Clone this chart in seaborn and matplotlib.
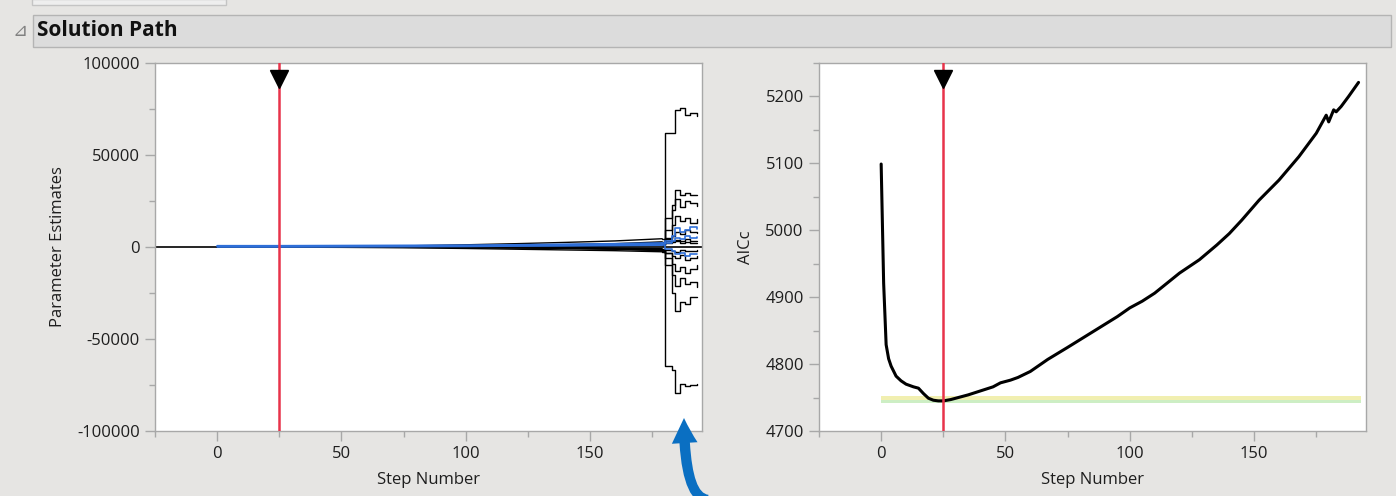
import numpy as np
import pandas as pd
import seaborn as sns
import matplotlib.pyplot as plt
from matplotlib.ticker import MultipleLocator
from matplotlib.patches import Rectangle, FancyArrowPatch
from matplotlib.path import Path

# ---- data ----
# left panel: parameter paths, values at these step knots
path_steps = [0, 25, 50, 75, 100, 120, 140, 160, 179, 180, 183, 184, 186, 188, 190, 193]
split = 8  # knots up to step 179 drift smoothly, after that the paths jump in steps

big_up = [0, 0, 0, 0, 0, 0, 300, 600, 900, 61900, 61900, 74500, 75400, 71800, 72900, 71400]
big_down = [0, 0, 0, 0, 0, 0, -300, -600, -900, -64800, -66600, -79100, -74700, -75600, -75000, -74700]
mid_1 = [0, 0, 0, 0, 0, 200, 500, 900, 1500, 16000, 23000, 31000, 28000, 29500, 28400, 28400]
mid_2 = [0, 0, 0, 0, 100, 300, 600, 1000, 1800, 9000, 20000, 26000, 22000, 25000, 24000, 22500]
mid_3 = [0, 0, 0, 0, -100, -300, -500, -900, -1500, -6000, -15000, -21000, -17000, -20000, -19000, -21500]
mid_4 = [0, 0, 0, 0, -200, -400, -700, -1200, -2000, -10000, -25000, -34900, -30000, -31000, -27000, -27000]
mid_5 = [0, 0, 0, 0, 150, 400, 800, 1400, 2200, 5000, 12000, 17000, 14000, 16000, 13000, 15000]
mid_6 = [0, 0, 0, 0, -150, -350, -600, -1000, -1800, -3000, -9000, -13000, -11000, -14000, -12000, -10000]
fan_1 = [0, 100, 300, 600, 1200, 1800, 2500, 3300, 4500, 4500, 6000, 8000, 7000, 9000, 8000, 7500]
fan_2 = [0, -100, -200, -400, -800, -1200, -1600, -2000, -2600, -3000, -5000, -6000, -4500, -7000, -6000, -5000]
fan_3 = [0, 50, 150, 300, 500, 900, 1300, 1800, 2800, 3000, 3500, 4000, 3000, 4500, 3500, 3000]
fan_4 = [0, 0, 100, 200, 400, 700, 1000, 1500, 2000, 2000, 2500, 3000, 2000, 2500, 2000, 2200]
fan_5 = [0, 0, -100, -200, -300, -500, -800, -1100, -1600, -1500, -2000, -2500, -1800, -2200, -2000, -1900]
blue_1 = [700, 700, 800, 900, 1000, 1200, 1500, 1800, 2200, 3000, 6000, 10500, 8000, 9000, 11000, 10000]
blue_2 = [300, 300, 400, 500, 600, 800, 1000, 1300, 1600, 2000, 3000, 5000, 4500, 6000, 5000, 5500]
blue_3 = [0, 0, 100, 200, 300, 500, 600, 800, 1000, -1000, -2000, -4000, -3000, -5000, -4000, -4000]

black_paths = [big_up, big_down, mid_1, mid_2, mid_3, mid_4, mid_5, mid_6,
               fan_1, fan_2, fan_3, fan_4, fan_5]
blue_paths = [blue_1, blue_2, blue_3]

# right panel: AICc by step
aic_steps = [0, 1, 2, 3, 4, 6, 8, 10, 13, 15, 17, 19, 21, 23, 25, 28, 31, 35, 40, 45, 48,
             52, 55, 60, 67, 75, 85, 95, 100, 105, 110, 115, 120, 128, 135, 140, 145, 152,
             160, 168, 175, 179, 180, 182, 183, 185, 188, 192]
aic_values = [5099, 4921, 4829, 4808, 4797, 4782, 4775, 4770, 4766, 4764, 4756, 4749, 4746,
              4745, 4745, 4747, 4750, 4754, 4760, 4766, 4772, 4776, 4780, 4789, 4807, 4825,
              4848, 4871, 4884, 4894, 4906, 4921, 4936, 4956, 4978, 4995, 5015, 5045, 5075,
              5110, 5145, 5172, 5162, 5180, 5177, 5185, 5200, 5221]

best_step = 25
band_steps = [0, 193]
band_lo, band_mid, band_hi = 4742, 4747, 4752

# ---- style ----
sns.set_style("white")
plt.rcParams['font.family'] = ['Open Sans', 'DejaVu Sans']
plt.rcParams['axes.unicode_minus'] = False
bg = '#e6e5e3'
spine_c = '#a8a8a8'
text_c = '#1e1e1e'

fig = plt.figure(figsize=(13.96, 4.96), dpi=100, facecolor=bg)
W, H = 1396, 496


def fx(x):
    return x / W


def fy(y):
    return 1 - y / H


# header strip
fig.patches.append(Rectangle((fx(32), fy(5)), fx(194), 6 / H, transform=fig.transFigure,
                             facecolor='#eeeeee', edgecolor='#c4c4c4', lw=1))
fig.patches.append(Rectangle((fx(33), fy(47)), fx(1358), 32 / H, transform=fig.transFigure,
                             facecolor='#dcdcdc', edgecolor='#b4b4b4', lw=1))
fig.text(fx(20), fy(31), '\u22bf', fontsize=13, color='#808080', ha='center', va='center',
         family='DejaVu Sans')
fig.text(fx(37), fy(31), 'Solution Path', fontsize=15, fontweight='bold', color='#111111',
         ha='left', va='center')

ax1 = fig.add_axes([fx(155), fy(431), fx(547), 368 / H])
ax2 = fig.add_axes([fx(819), fy(431), fx(547), 368 / H])


def draw_path(ax, vals, color, lw, z):
    # smooth drift up to the split knot, then step jumps
    sns.lineplot(x=path_steps[:split + 1], y=vals[:split + 1], ax=ax, color=color, lw=lw,
                 estimator=None, sort=False, zorder=z)
    sns.lineplot(x=path_steps[split:], y=vals[split:], ax=ax, color=color, lw=lw,
                 drawstyle='steps-post', estimator=None, sort=False, zorder=z)


# left: parameter estimates
ax1.axhline(0, color='black', lw=1.2, zorder=1)
for vals in black_paths:
    draw_path(ax1, vals, 'black', 1.0, 2)
for vals in blue_paths:
    draw_path(ax1, vals, '#2f6fd8', 1.2, 3)
ax1.set_xlim(-25, 195)
ax1.set_ylim(-100000, 100000)
ax1.yaxis.set_major_locator(MultipleLocator(50000))
ax1.yaxis.set_minor_locator(MultipleLocator(25000))
ax1.set_ylabel('Parameter Estimates', fontsize=12, color=text_c, labelpad=8)

# right: AICc
ax2.fill_between(band_steps, band_mid, band_hi, color='#f1efb0', lw=0, zorder=1)
ax2.fill_between(band_steps, band_lo, band_mid, color='#cdeec4', lw=0, zorder=1)
sns.lineplot(x=aic_steps, y=aic_values, ax=ax2, color='black', lw=2.2,
             estimator=None, sort=False, zorder=3)
ax2.set_xlim(-25, 195)
ax2.set_ylim(4700, 5250)
ax2.yaxis.set_major_locator(MultipleLocator(100))
ax2.yaxis.set_minor_locator(MultipleLocator(50))
ax2.set_ylabel('AICc', fontsize=12, color=text_c, labelpad=8)

for ax in (ax1, ax2):
    ax.set_facecolor('white')
    ax.axvline(best_step, color='#e8334a', lw=1.8, zorder=4)
    ax.plot([best_step], [0.957], marker='v', markersize=13, color='black',
            transform=ax.get_xaxis_transform(), zorder=5, clip_on=False)
    ax.xaxis.set_major_locator(MultipleLocator(50))
    ax.xaxis.set_minor_locator(MultipleLocator(25))
    ax.set_xlabel('Step Number', fontsize=12, color=text_c, labelpad=7)
    for s in ax.spines.values():
        s.set_color(spine_c)
        s.set_linewidth(1)
    ax.tick_params(which='major', direction='out', length=7, width=1, color=spine_c,
                   labelsize=12, labelcolor=text_c, pad=4, left=True, bottom=True)
    ax.tick_params(which='minor', direction='out', length=4, width=1, color=spine_c,
                   left=True, bottom=True)

# blue callout arrow at bottom of left panel
arrow_path = Path([(fx(708), fy(500)), (fx(684), fy(498)), (fx(684), fy(418))],
                  [Path.MOVETO, Path.CURVE3, Path.CURVE3])
arrow = FancyArrowPatch(path=arrow_path, transform=fig.transFigure,
                        arrowstyle='simple,head_length=1.8,head_width=1.85,tail_width=0.75',
                        mutation_scale=10, facecolor='#0a6fc2', edgecolor='none', zorder=10)
fig.patches.append(arrow)

fig.savefig('out.png', dpi=100, facecolor=bg)
